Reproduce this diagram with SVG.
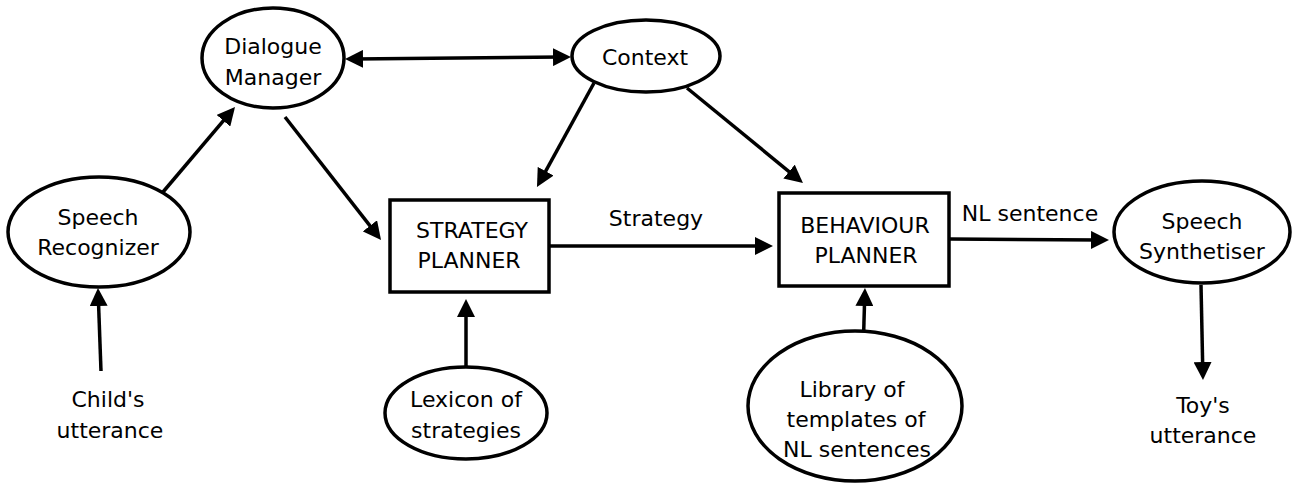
<svg xmlns="http://www.w3.org/2000/svg" width="1292" height="483" viewBox="0 0 1292 483">
<style>
.n{fill:#fff;stroke:#000;stroke-width:3.5}
.t{font-family:"DejaVu Sans",sans-serif;font-size:22px;fill:#000;text-anchor:middle}
.c{stroke:#000;stroke-width:3.5;fill:none;marker-end:url(#ah)}
</style>
<defs>
<marker id="ah" viewBox="0 0 18 18" refX="9" refY="9" markerWidth="18" markerHeight="18" markerUnits="userSpaceOnUse" orient="auto-start-reverse">
<path d="M0,0 L18,9 L0,18 z" fill="#000"/>
</marker>
</defs>
<rect width="1292" height="483" fill="#fff"/>
<g id="connectors">
<line class="c" x1="354" y1="59" x2="562" y2="57" style="marker-start:url(#ah)"/>
<line class="c" x1="163" y1="192" x2="229.2" y2="113.9"/>
<line class="c" x1="285" y1="117" x2="375.5" y2="232.9"/>
<line class="c" x1="594" y1="83" x2="541.3" y2="179.1"/>
<line class="c" x1="687" y1="88" x2="796" y2="177.3"/>
<line class="c" x1="550" y1="246" x2="764" y2="246"/>
<line class="c" x1="950" y1="239" x2="1100" y2="240"/>
<line class="c" x1="101" y1="371" x2="98.3" y2="297"/>
<line class="c" x1="466" y1="366" x2="466" y2="308"/>
<line class="c" x1="863" y1="355" x2="864.7" y2="297"/>
<line class="c" x1="1201" y1="285" x2="1202.8" y2="371"/>
</g>
<g id="dialogue-manager">
<ellipse class="n" cx="273" cy="58" rx="71" ry="50"/>
<text class="t" x="273" y="54">Dialogue</text>
<text class="t" x="273" y="85">Manager</text>
</g>
<g id="context">
<ellipse class="n" cx="646" cy="56" rx="74" ry="36"/>
<text class="t" x="645" y="65">Context</text>
</g>
<g id="speech-recognizer">
<ellipse class="n" cx="99" cy="232" rx="91" ry="55"/>
<text class="t" x="98" y="225">Speech</text>
<text class="t" x="98" y="255">Recognizer</text>
</g>
<g id="strategy-planner">
<rect class="n" x="390" y="200" width="159" height="92"/>
<text class="t" x="472" y="238">STRATEGY</text>
<text class="t" x="469" y="268">PLANNER</text>
</g>
<g id="behaviour-planner">
<rect class="n" x="779" y="193" width="170" height="93"/>
<text class="t" x="865" y="233">BEHAVIOUR</text>
<text class="t" x="866" y="263">PLANNER</text>
</g>
<g id="speech-synthetiser">
<ellipse class="n" cx="1202" cy="232" rx="88" ry="51"/>
<text class="t" x="1202" y="229">Speech</text>
<text class="t" x="1202" y="259">Synthetiser</text>
</g>
<g id="lexicon">
<ellipse class="n" cx="466" cy="413" rx="81" ry="46"/>
<text class="t" x="466" y="407">Lexicon of</text>
<text class="t" x="466" y="438">strategies</text>
</g>
<g id="library">
<ellipse class="n" cx="855" cy="406" rx="107" ry="75"/>
<text class="t" x="852" y="397">Library of</text>
<text class="t" x="856" y="427">templates of</text>
<text class="t" x="857" y="457">NL sentences</text>
</g>
<g id="childs-utterance">
<text class="t" x="108" y="407">Child's</text>
<text class="t" x="110" y="438">utterance</text>
</g>
<g id="toys-utterance">
<text class="t" x="1203" y="413">Toy's</text>
<text class="t" x="1203" y="443">utterance</text>
</g>
<g id="labels">
<text class="t" x="656" y="226">Strategy</text>
<text class="t" x="1030" y="221">NL sentence</text>
</g>
</svg>
